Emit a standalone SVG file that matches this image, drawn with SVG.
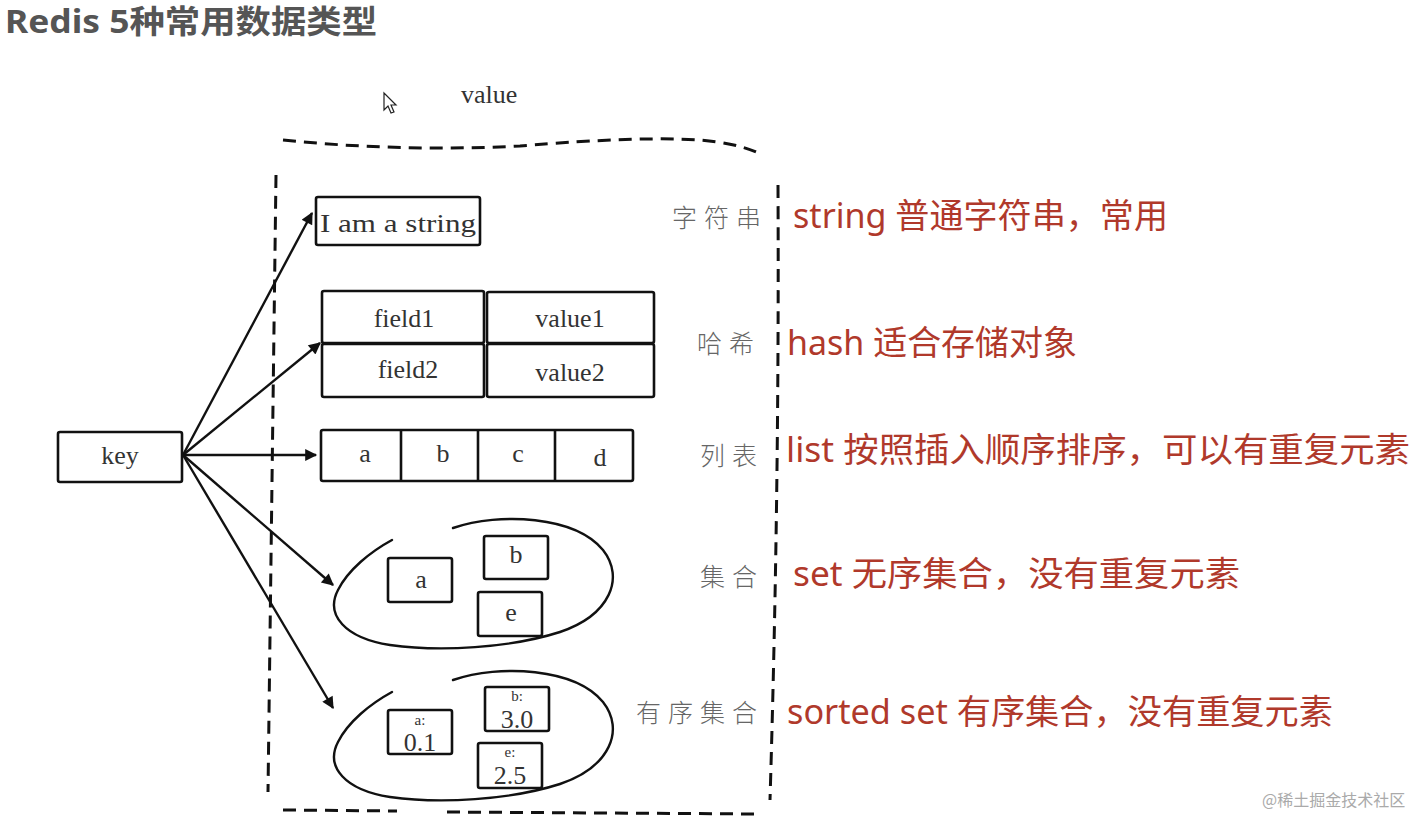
<svg xmlns="http://www.w3.org/2000/svg" width="1415" height="817" viewBox="0 0 1415 817">
<style>
.title{font-family:"Noto Sans","Noto Sans CJK SC",sans-serif;font-weight:bold;font-size:32px;fill:#555}
.hand{font-family:"Liberation Serif",serif;font-size:26px;fill:#333}
.small{font-family:"Liberation Serif",serif;font-size:15px;fill:#333}
.big{font-family:"Liberation Serif",serif;font-size:26px;fill:#333}
.cn{font-family:"Noto Sans CJK SC",sans-serif;font-weight:300;font-size:25px;fill:#666;letter-spacing:7px}
.red{font-family:"Noto Sans","Noto Sans CJK SC",sans-serif;font-size:34px;fill:#b0392b}
.box{fill:none;stroke:#111;stroke-width:2.6;stroke-linejoin:round}
.dash{fill:none;stroke:#111;stroke-width:3;stroke-dasharray:13 8}
.arrow{fill:none;stroke:#111;stroke-width:2.4;marker-end:url(#ah)}
.curve{fill:none;stroke:#111;stroke-width:2.4;stroke-linecap:round}
</style>
<defs>
<marker id="ah" viewBox="0 0 10 10" refX="9" refY="5" markerWidth="14" markerHeight="12" markerUnits="userSpaceOnUse" orient="auto">
<path d="M0,0 L10,5 L0,10 z" fill="#111"/>
</marker>
</defs>
<rect width="1415" height="817" fill="#fff"/>
<text class="title" x="5" y="33" textLength="372" lengthAdjust="spacingAndGlyphs">Redis 5种常用数据类型</text>
<text class="hand" x="461" y="103">value</text>
<path d="M384,93 L384,110 L388,106 L391,113 L394,112 L391,105 L396,105 z" fill="#fff" stroke="#222" stroke-width="1.2"/>
<g id="frame">
<path class="dash" d="M283,140 Q400,152 520,146 Q640,136 700,140 Q735,143 756,152"/>
<path class="dash" d="M276,175 Q272,480 268,792"/>
<path class="dash" d="M778,185 C779,400 776,600 770,800"/>
<path class="dash" d="M283,810 L397,811"/>
<path class="dash" d="M447,812 L760,814"/>
</g>
<g id="key">
<rect class="box" x="58" y="432" width="124" height="50" rx="2"/>
<text class="hand" x="120" y="464" text-anchor="middle">key</text>
</g>
<g id="string">
<rect class="box" x="316" y="197" width="164" height="48" rx="2"/>
<text class="hand" x="320" y="232" textLength="156" lengthAdjust="spacingAndGlyphs">I am a string</text>
<text class="cn" x="672" y="227">字符串</text>
<text class="red" x="793" y="228" textLength="375" lengthAdjust="spacingAndGlyphs">string 普通字符串，常用</text>
</g>
<g id="hash">
<rect class="box" x="322" y="291" width="162" height="52" rx="2"/>
<rect class="box" x="487" y="292" width="167" height="51" rx="2"/>
<rect class="box" x="322" y="344" width="162" height="53" rx="2"/>
<rect class="box" x="487" y="344" width="167" height="53" rx="2"/>
<text class="hand" x="404" y="327" text-anchor="middle">field1</text>
<text class="hand" x="570" y="327" text-anchor="middle">value1</text>
<text class="hand" x="408" y="378" text-anchor="middle">field2</text>
<text class="hand" x="570" y="381" text-anchor="middle">value2</text>
<text class="cn" x="697" y="353">哈希</text>
<text class="red" x="787" y="355" textLength="290" lengthAdjust="spacingAndGlyphs">hash 适合存储对象</text>
</g>
<g id="list">
<rect class="box" x="321" y="430" width="312" height="51" rx="2"/>
<path class="box" d="M401,430 L401,481 M478,430 L478,481 M555,430 L555,481"/>
<text class="hand" x="365" y="462" text-anchor="middle">a</text>
<text class="hand" x="443" y="462" text-anchor="middle">b</text>
<text class="hand" x="518" y="462" text-anchor="middle">c</text>
<text class="hand" x="600" y="466" text-anchor="middle">d</text>
<text class="cn" x="700" y="465">列表</text>
<text class="red" x="786" y="462" textLength="624" lengthAdjust="spacingAndGlyphs">list 按照插入顺序排序，可以有重复元素</text>
</g>
<g id="set">
<path class="curve" d="M453,528 C500,512 575,516 603,550 C625,578 610,615 560,632 C510,648 440,652 390,645 C345,638 325,615 338,590 C348,570 370,552 392,540"/>
<rect class="box" x="388" y="558" width="64" height="44" rx="2"/>
<rect class="box" x="484" y="536" width="64" height="43" rx="2"/>
<rect class="box" x="478" y="592" width="64" height="44" rx="2"/>
<text class="hand" x="421" y="588" text-anchor="middle">a</text>
<text class="hand" x="516" y="563" text-anchor="middle">b</text>
<text class="hand" x="511" y="621" text-anchor="middle">e</text>
<text class="cn" x="700" y="586">集合</text>
<text class="red" x="793" y="586" textLength="447" lengthAdjust="spacingAndGlyphs">set 无序集合，没有重复元素</text>
</g>
<g id="sortedset">
<path class="curve" transform="translate(0,152)" d="M453,528 C500,512 575,516 603,550 C625,578 610,615 560,632 C510,648 440,652 390,645 C345,638 325,615 338,590 C348,570 370,552 392,540"/>
<rect class="box" x="388" y="710" width="64" height="44" rx="2"/>
<rect class="box" x="485" y="687" width="64" height="44" rx="2"/>
<rect class="box" x="478" y="743" width="64" height="45" rx="2"/>
<text class="small" x="420" y="725" text-anchor="middle">a:</text>
<text class="big" x="420" y="751" text-anchor="middle">0.1</text>
<text class="small" x="517" y="701" text-anchor="middle">b:</text>
<text class="big" x="517" y="728" text-anchor="middle">3.0</text>
<text class="small" x="510" y="757" text-anchor="middle">e:</text>
<text class="big" x="510" y="784" text-anchor="middle">2.5</text>
<text class="cn" x="636" y="722">有序集合</text>
<text class="red" x="787" y="724" textLength="546" lengthAdjust="spacingAndGlyphs">sorted set 有序集合，没有重复元素</text>
</g>
<g id="connectors">
<path class="arrow" d="M183,455 L312,213"/>
<path class="arrow" d="M183,455 L320,343"/>
<path class="arrow" d="M183,455 L316,455"/>
<path class="arrow" d="M183,455 L333,585"/>
<path class="arrow" d="M183,455 L333,708"/>
</g>
<text x="1262" y="806" font-family="Noto Sans CJK SC, sans-serif" font-size="16" fill="#aaa">@稀土掘金技术社区</text>
</svg>
